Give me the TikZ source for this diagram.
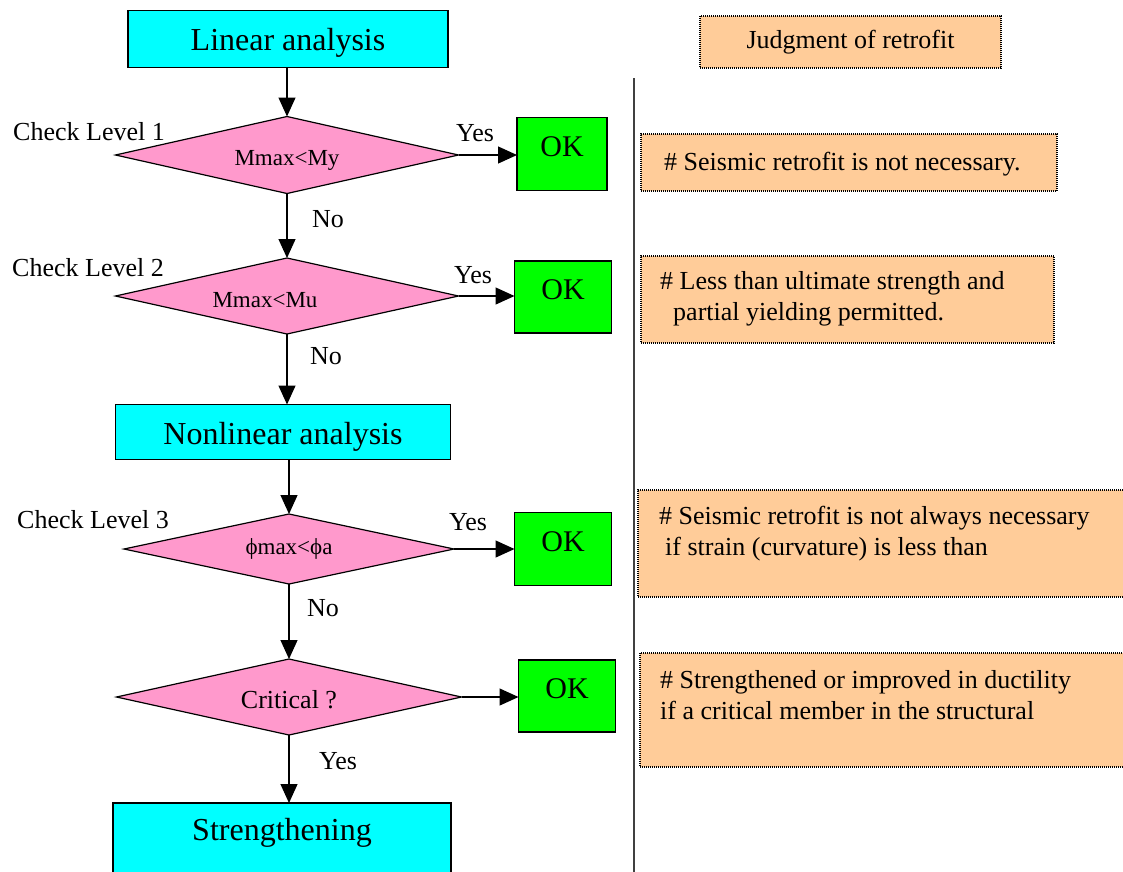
\documentclass[tikz,border=0pt]{standalone}
\usepackage{fontspec}
\setmainfont{LiberationSerif}[Extension=.ttf, UprightFont=*-Regular, BoldFont=*-Bold]
\usetikzlibrary{shapes.geometric,arrows.meta}
\definecolor{cyanbox}{HTML}{00FFFF}
\definecolor{pinkbox}{HTML}{FF99CC}
\definecolor{greenbox}{HTML}{00FF00}
\definecolor{orangebox}{HTML}{FFCC99}
\tikzset{
  procbox/.style={draw=black, line width=1.2pt, fill=cyanbox, rectangle, inner sep=0pt, outer sep=0pt, font=\fontsize{32}{36}\selectfont},
  decbox/.style={draw=black, line width=1.2pt, fill=pinkbox, diamond, inner sep=0pt, outer sep=0pt, aspect=4.5},
  okbox/.style={draw=black, line width=1.2pt, fill=greenbox, rectangle, inner sep=0pt, outer sep=0pt, font=\fontsize{30}{34}\selectfont, text depth=14pt},
  notebox/.style={draw=black, line width=1.2pt, dash pattern=on 1pt off 1pt, fill=orangebox, rectangle, inner sep=0pt, outer sep=0pt},
  notetext/.style={anchor=north west, inner sep=0pt, align=left, font=\fontsize{26}{31}\selectfont},
  lbl/.style={inner sep=0pt, font=\fontsize{26}{30}\selectfont},
  flow/.style={line width=1.2pt, -{Triangle[length=19pt,width=17pt]}},
}
\begin{document}
\begin{tikzpicture}[x=1pt,y=-1pt]
\useasboundingbox (0,0) rectangle (1123,871);
% process boxes
\node[procbox, minimum width=320pt, minimum height=57pt, text height=23pt, text depth=0pt] (lin) at (288,39) {Linear analysis};
\node[procbox, minimum width=335pt, minimum height=55pt, text height=25pt, text depth=0pt] (nonlin) at (283,432) {Nonlinear analysis};
\node[procbox, minimum width=338pt, minimum height=90pt, text depth=37pt] (stren) at (282,848) {Strengthening};
% decisions
\node[decbox, minimum width=343pt, minimum height=77pt, font=\fontsize{23}{26}\selectfont, text height=21pt, text depth=0pt] (d1) at (287,155) {Mmax<My};
\node[decbox, minimum width=343pt, minimum height=76pt, font=\fontsize{23}{26}\selectfont, text height=23pt, text depth=0pt] (d2) at (287,296) {\hspace*{-44pt}Mmax<Mu};
\node[decbox, minimum width=330pt, minimum height=70pt, font=\fontsize{23}{26}\selectfont] (d3) at (289,549) {ϕmax<ϕa};
\node[decbox, minimum width=345pt, minimum height=76pt, font=\fontsize{26}{30}\selectfont, text height=23pt, text depth=0pt] (d4) at (289,697) {Critical ?};
% OK boxes
\node[okbox, minimum width=90pt, minimum height=73pt] (ok1) at (562,154) {OK};
\node[okbox, minimum width=97pt, minimum height=72pt] (ok2) at (563,297) {OK};
\node[okbox, minimum width=97pt, minimum height=73pt] (ok3) at (563,549) {OK};
\node[okbox, minimum width=97pt, minimum height=72pt] (ok4) at (567,696) {OK};
% labels
\node[lbl] (cl1) at (89,132) {Check Level 1};
\node[lbl] (cl2) at (88,268) {Check Level 2};
\node[lbl] (cl3) at (93,520) {Check Level 3};
\node[lbl] (y1) at (475,133) {Yes};
\node[lbl] (y2) at (473,275) {Yes};
\node[lbl] (y3) at (468,522) {Yes};
\node[lbl] (n1) at (328,219) {No};
\node[lbl] (n2) at (326,356) {No};
\node[lbl] (n3) at (323,608) {No};
\node[lbl] (y4) at (338,761) {Yes};
% connectors
\draw[flow] (lin.south -| d1.north) -- (d1.north);
\draw[flow] (d1.south) -- (d2.north);
\draw[flow] (d2.south) -- (nonlin.north -| d2.south);
\draw[flow] (nonlin.south -| d3.north) -- (d3.north);
\draw[flow] (d3.south) -- (d4.north);
\draw[flow] (d4.south) -- (stren.north -| d4.south);
\draw[flow] (d1.east) -- (ok1.west |- d1.east);
\draw[flow] (d2.east) -- (ok2.west |- d2.east);
\draw[flow] (d3.east) -- (ok3.west |- d3.east);
\draw[flow] (d4.east) -- (ok4.west |- d4.east);
% divider
\coordinate (divtop) at (634,78);
\coordinate (divbot) at (634,875);
\draw[line width=1.5pt, black!75] (divtop) -- (divbot);
% notes
\node[notebox, minimum width=301pt, minimum height=52pt, font=\fontsize{26}{30}\selectfont] (judg) at (850.5,42) {Judgment of retrofit};
\node[notebox, anchor=north west, minimum width=416pt, minimum height=57pt] (nb1) at (641,134) {};
\node[notetext] (nt1) at (664,152) {\# Seismic retrofit is not necessary.};
\node[notebox, anchor=north west, minimum width=413pt, minimum height=87pt] (nb2) at (641,256) {};
\node[notetext] (nt2) at (660,271) {\# Less than ultimate strength and\\\hspace*{13pt}partial yielding permitted.};
\node[notebox, anchor=north west, minimum width=500pt, minimum height=107pt] (nb3) at (638,490) {};
\node[notetext] (nt3) at (659,506) {\# Seismic retrofit is not always necessary\\\hspace*{6pt}if strain (curvature) is less than};
\node[notebox, anchor=north west, minimum width=500pt, minimum height=114pt] (nb4) at (640,653) {};
\node[notetext] (nt4) at (660,670) {\# Strengthened or improved in ductility\\if a critical member in the structural};
\end{tikzpicture}
\end{document}
